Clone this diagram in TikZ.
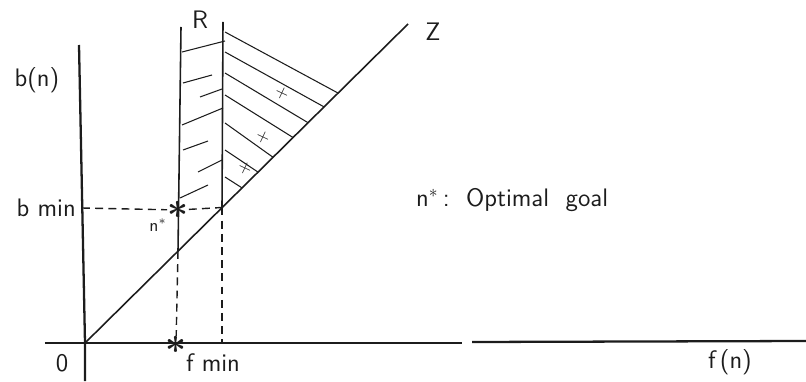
\documentclass[tikz,border=0pt]{standalone}
\usepackage{amsmath,amssymb}
\usepackage{tikz}
\usetikzlibrary{positioning,calc}
\usepackage{xcolor}
\definecolor{InkBlack}{HTML}{1C1C1C}

\begin{document}
\begin{tikzpicture}[x=1cm,y=1cm,
  axis/.style={InkBlack,line width=1.3pt},
  region/.style={InkBlack,line width=0.9pt},
  guide/.style={InkBlack,line width=0.8pt,dash pattern=on 4.5pt off 3pt},
  hatch/.style={InkBlack,line width=0.6pt},
  starmark/.style={inner sep=0pt,font=\huge,text=InkBlack},
  crossmark/.style={inner sep=0pt,font=\normalsize\sffamily,rotate=-25},
  every node/.style={font=\Large\sffamily,text=InkBlack}]
  \useasboundingbox (-1.70,-0.76) rectangle (14.42,6.86);
  % axes and the line Z through the origin
  \coordinate (O) at (0,0);
  \coordinate (ytop) at (-0.12,5.96);
  \coordinate (ybot) at (0,-0.76);
  \coordinate (xleft) at (-0.8,0);
  \coordinate (xgapl) at (7.54,0);
  \coordinate (xgapr) at (7.74,0.02);
  \coordinate (xright) at (14.42,0.04);
  \coordinate (Ztop) at (6.46,6.38);
  \coordinate (bm) at (-0.06,2.70);
  \coordinate (Rltop) at (1.92,6.32);
  \coordinate (Rlcut) at (1.86,1.84);
  \coordinate (Rrtop) at (2.76,6.42);
  \coordinate (corner) at (2.74,2.71);
  \coordinate (Rrfoot) at (2.74,0);
  \draw[axis] (ybot) -- (O) -- (ytop);
  \draw[axis] (xleft) -- (xgapl);
  \draw[axis] (xgapr) -- (xright);
  \draw[region] (O) -- (Ztop);
  % strip R between the two verticals
  \draw[region] (Rltop) -- (Rlcut);
  \draw[region] (Rrtop) -- (corner);
  \node[starmark] (nstar) at (1.86,2.66) {$\boldsymbol{\ast}$};
  \node[starmark] (fstar) at (1.82,-0.04) {$\boldsymbol{\ast}$};
  \draw[guide] (bm) -- (nstar) -- (corner);
  \draw[guide] (Rlcut) -- (fstar);
  \draw[guide] (corner) -- (Rrfoot);
  \foreach \xa/\ya/\xb/\yb in {1.94/5.82/2.80/6.04, 1.96/5.20/2.54/5.36,
      2.30/4.92/2.74/5.08, 1.94/4.36/2.76/4.70, 1.96/3.86/2.46/4.04,
      2.26/3.42/2.74/3.66, 1.90/2.90/2.46/3.16}
    \draw[hatch] (\xa,\ya) -- (\xb,\yb);
  % hatching between R and Z
  \foreach \ya/\xb in {6.22/5.06, 5.82/4.78, 5.40/4.46, 4.96/4.16,
      4.40/3.76, 3.86/3.46, 3.32/3.14}
    \draw[hatch] (2.80,\ya) -- (\xb,0.988*\xb);
  \foreach \cx/\cy [count=\i] in {3.94/5.00, 3.56/4.12, 3.20/3.50}
    \node[crossmark] (cross\i) at (\cx,\cy) {+};
  % labels
  \node (bn) at (-0.96,5.26) {b(n)};
  \node[left=0pt of bm] (bmin) {b min};
  \node[font=\normalsize\sffamily] (nlbl) at (1.46,2.36) {n$^{\ast}$};
  \node (zero) at (-0.46,-0.40) {0};
  \node (fmin) at (2.56,-0.40) {f min};
  \node (fn) at (12.9,-0.38) {f\,(n)};
  \node (Rlbl) at (2.30,6.46) {R};
  \node (Zlbl) at (6.96,6.22) {Z};
  \node[anchor=west] (legend) at (6.50,2.86) {n$^{\ast}$\,:\ \ Optimal\ \ goal};
\end{tikzpicture}
\end{document}
